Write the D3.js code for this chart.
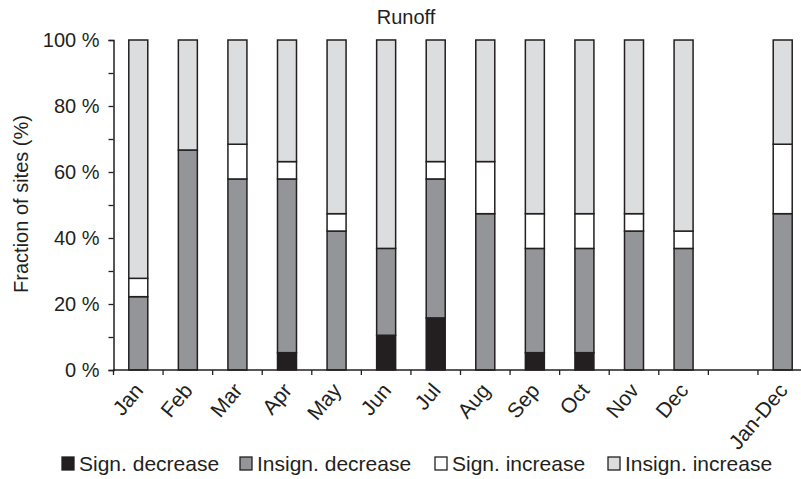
<!DOCTYPE html>
<html>
<head>
<meta charset="utf-8">
<script src="https://cdn.jsdelivr.net/npm/d3@7"></script>
<style>
  html, body { margin: 0; padding: 0; background: #fff; }
  svg text { font-family: "Liberation Sans", Arial, sans-serif; fill: #231f20; }
</style>
</head>
<body>
<svg id="chart" width="801" height="479"></svg>
<script>
// Months plus a blank spacer slot before the annual column
const categories = ["Jan", "Feb", "Mar", "Apr", "May", "Jun", "Jul", "Aug", "Sep", "Oct", "Nov", "Dec", "", "Jan-Dec"];

// Fraction of sites (%) per trend class
const signDecrease   = [0, 0, 0, 5.26, 0, 10.53, 15.79, 0, 5.26, 5.26, 0, 0, null, 0];
const insignDecrease = [22.22, 66.67, 57.89, 52.63, 42.11, 26.32, 42.11, 47.37, 31.58, 31.58, 42.11, 36.84, null, 47.37];
const signIncrease   = [5.56, 0, 10.53, 5.26, 5.26, 0, 5.26, 15.79, 10.53, 10.53, 5.26, 5.26, null, 21.05];
const insignIncrease = [72.22, 33.33, 31.58, 36.84, 52.63, 63.16, 36.84, 36.84, 52.63, 52.63, 52.63, 57.89, null, 31.58];

const seriesNames = ["Sign. decrease", "Insign. decrease", "Sign. increase", "Insign. increase"];
const seriesColors = ["#231f20", "#939598", "#ffffff", "#dcddde"];
const yTicks = [0, 10, 20, 30, 40, 50, 60, 70, 80, 90, 100];

const svg = d3.select("#chart");
const ink = "#231f20";

const x = d3.scaleBand().domain(categories).range([113.5, 807.5]).padding(0);
const y = d3.scaleLinear().domain([0, 100]).range([370, 40]);
const barW = 19;

// Build stacked rows (spacer slot has no data)
const rows = categories.map((c, i) => ({
  cat: c,
  "Sign. decrease": signDecrease[i],
  "Insign. decrease": insignDecrease[i],
  "Sign. increase": signIncrease[i],
  "Insign. increase": insignIncrease[i]
})).filter(r => r["Insign. decrease"] !== null);

const stack = d3.stack().keys(seriesNames);
const layers = stack(rows);

const g = svg.append("g");
layers.forEach((layer, li) => {
  g.selectAll(null)
    .data(layer.filter(d => d[1] - d[0] > 0))
    .join("rect")
    .attr("x", d => x(d.data.cat) + (x.bandwidth() - barW) / 2)
    .attr("y", d => y(d[1]))
    .attr("width", barW)
    .attr("height", d => y(d[0]) - y(d[1]))
    .attr("fill", seriesColors[li])
    .attr("stroke", ink)
    .attr("stroke-width", 1.5);
});

// Y axis
const yAxis = svg.append("g")
  .attr("transform", `translate(${x.range()[0]},0)`)
  .call(d3.axisLeft(y).tickValues(yTicks).tickSize(5).tickPadding(9)
    .tickFormat(d => d % 20 === 0 ? d + " %" : ""));
yAxis.select(".domain").attr("stroke", ink).attr("stroke-width", 1.5);
yAxis.selectAll(".tick line").attr("stroke", ink).attr("stroke-width", 1.3);
yAxis.selectAll(".tick text").attr("font-size", 20).attr("fill", ink)
  .style("font-family", '"Liberation Sans", Arial, sans-serif');

// X axis: line with ticks at category boundaries
const xg = svg.append("g");
xg.append("line")
  .attr("x1", x.range()[0]).attr("x2", x.range()[1])
  .attr("y1", y(0)).attr("y2", y(0))
  .attr("stroke", ink).attr("stroke-width", 1.5);
xg.selectAll("line.bound")
  .data(categories)
  .join("line")
  .attr("class", "bound")
  .attr("x1", d => x(d)).attr("x2", d => x(d))
  .attr("y1", y(0)).attr("y2", y(0) + 5)
  .attr("stroke", ink).attr("stroke-width", 1.3);

xg.selectAll("text.cat")
  .data(categories.filter(c => c !== ""))
  .join("text")
  .attr("class", "cat")
  .attr("text-anchor", "end")
  .attr("font-size", 21)
  .attr("transform", d => `translate(${x(d) + x.bandwidth() / 2 + 6},${y(0) + 21}) rotate(-50)`)
  .text(d => d);

// Title
svg.append("text")
  .attr("x", 406).attr("y", 24)
  .attr("text-anchor", "middle")
  .attr("font-size", 20)
  .text("Runoff");

// Y axis title
svg.append("text")
  .attr("transform", `translate(28,204) rotate(-90)`)
  .attr("text-anchor", "middle")
  .attr("font-size", 20)
  .text("Fraction of sites (%)");

// Legend
const legendX = [62, 240, 435, 608];
const leg = svg.append("g");
seriesNames.forEach((name, i) => {
  leg.append("rect")
    .attr("x", legendX[i]).attr("y", 457)
    .attr("width", 12).attr("height", 13)
    .attr("fill", seriesColors[i])
    .attr("stroke", ink).attr("stroke-width", 1.3);
  leg.append("text")
    .attr("x", legendX[i] + 17).attr("y", 471)
    .attr("font-size", 21)
    .text(name);
});
</script>
</body>
</html>
